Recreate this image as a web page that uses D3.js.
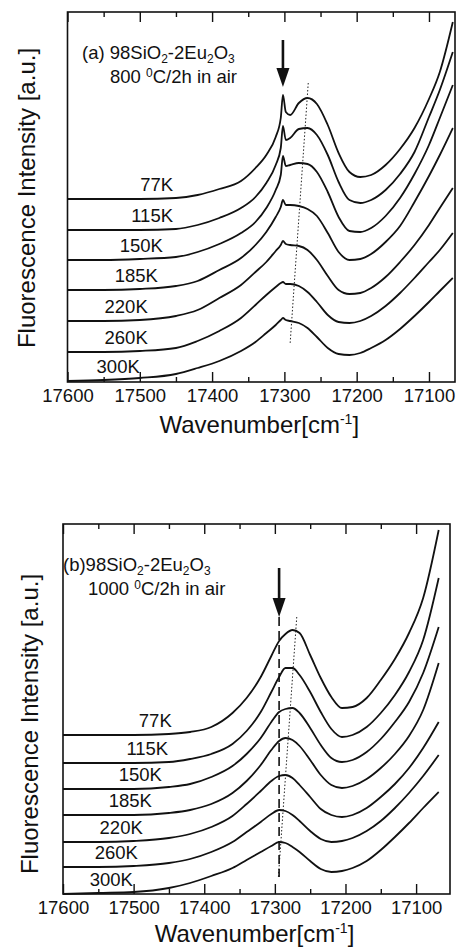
<!DOCTYPE html>
<html>
<head>
<meta charset="utf-8">
<script src="https://cdnjs.cloudflare.com/ajax/libs/d3/7.8.5/d3.min.js"></script>
<style>
  body { margin: 0; background: #fff; }
  svg text { font-family: 'Liberation Sans', Arial, Helvetica, sans-serif; fill: #111; }
</style>
</head>
<body>
<svg class="spectra" width="458" height="952"></svg>
<script>
const temps = ['77K', '115K', '150K', '185K', '220K', '260K', '300K'];

// (a) 800 C / 2h in air -- wavenumbers [cm-1] and stacked intensities [a.u.]
const wavenumberA = [17600, 17550, 17500, 17450, 17420, 17390, 17360, 17340, 17325, 17312, 17305, 17302, 17298, 17292,
                     17280, 17268, 17255, 17240, 17225, 17210, 17195, 17180, 17160, 17140, 17120, 17100, 17085, 17067];
const a77K  = [18.3, 18.3, 18.3, 18.4, 18.7, 19.3, 20.1, 21.4, 22.7, 24.5, 26.4, 28.7, 27.0, 26.7,
               27.9, 28.4, 27.8, 25.7, 22.9, 21.0, 20.5, 20.7, 21.7, 23.3, 25.4, 28.3, 31.0, 36.0];
const a115K = [15.2, 15.2, 15.2, 15.3, 15.7, 16.4, 17.4, 18.5, 19.9, 21.7, 23.4, 25.6, 24.2, 24.4,
               25.3, 25.4, 24.7, 22.7, 20.0, 18.2, 17.9, 18.2, 19.2, 20.8, 23.0, 26.5, 29.2, 33.0];
const a150K = [12.2, 12.2, 12.3, 12.5, 13.0, 13.8, 14.9, 16.0, 17.4, 19.2, 20.7, 22.6, 21.6, 21.7,
               21.9, 21.8, 21.0, 19.0, 16.5, 15.1, 15.0, 15.4, 16.6, 18.4, 20.8, 23.7, 26.4, 29.7];
const a185K = [9.2, 9.2, 9.3, 9.6, 10.1, 11.2, 12.4, 13.7, 15.0, 16.5, 17.5, 18.2, 17.7, 17.7,
               17.6, 17.3, 16.6, 14.9, 13.0, 12.2, 12.3, 12.8, 14.0, 15.6, 18.0, 20.6, 22.7, 25.4];
const a220K = [6.1, 6.1, 6.2, 6.6, 7.2, 8.4, 9.7, 11.0, 12.0, 13.1, 13.7, 14.1, 13.8, 13.7,
               13.6, 13.2, 12.2, 10.6, 9.2, 8.8, 8.9, 9.4, 10.5, 12.0, 13.7, 15.7, 17.4, 19.4];
const a260K = [3.0, 3.0, 3.1, 3.4, 4.1, 5.1, 6.4, 7.7, 8.7, 9.5, 9.9, 10.0, 9.8, 9.8,
               9.6, 9.0, 8.0, 6.7, 6.0, 5.9, 6.1, 6.6, 7.6, 8.9, 10.4, 12.0, 13.2, 14.9];
const a300K = [0.1, 0.2, 0.4, 0.8, 1.4, 2.1, 3.1, 4.0, 4.9, 5.7, 6.2, 6.4, 6.2, 6.1,
               5.9, 5.4, 4.5, 3.4, 2.8, 2.7, 2.9, 3.4, 4.2, 5.3, 6.6, 8.0, 9.1, 10.4];

// (b) 1000 C / 2h in air
const wavenumberB = [17600, 17550, 17500, 17450, 17420, 17390, 17360, 17340, 17320, 17305, 17294, 17285, 17275,
                     17265, 17250, 17235, 17220, 17205, 17190, 17170, 17150, 17130, 17110, 17090, 17068];
const b77K  = [15.9, 15.9, 15.9, 16.0, 16.2, 16.7, 18.1, 19.6, 21.7, 23.8, 25.3, 26.0, 26.4,
               26.1, 23.9, 21.6, 19.7, 18.6, 18.7, 19.6, 21.4, 23.5, 26.1, 29.6, 36.4];
const b115K = [13.1, 13.1, 13.1, 13.2, 13.5, 14.0, 15.0, 16.3, 18.2, 20.2, 21.7, 22.6, 22.6,
               21.9, 20.2, 18.2, 16.5, 15.7, 15.9, 16.7, 18.1, 19.9, 22.2, 25.4, 31.6];
const b150K = [10.5, 10.5, 10.5, 10.7, 11.0, 11.7, 12.8, 14.0, 15.6, 17.2, 18.2, 18.5, 18.6,
               18.1, 16.6, 14.9, 13.6, 13.2, 13.4, 14.2, 15.5, 17.2, 19.2, 22.1, 26.7];
const b185K = [7.9, 7.9, 7.9, 8.1, 8.4, 9.0, 10.1, 11.3, 12.9, 14.4, 15.3, 15.6, 15.4,
               14.8, 13.4, 11.9, 10.9, 10.6, 10.8, 11.5, 12.6, 14.0, 15.8, 18.4, 23.1];
const b220K = [5.2, 5.2, 5.3, 5.6, 6.0, 6.7, 7.8, 9.0, 10.3, 11.3, 11.8, 11.9, 11.6,
               10.9, 9.7, 8.5, 7.9, 7.7, 7.9, 8.6, 9.7, 11.0, 12.6, 14.6, 17.2];
const b260K = [2.7, 2.7, 2.8, 3.1, 3.5, 4.2, 5.2, 6.2, 7.2, 8.0, 8.4, 8.3, 7.9,
               7.3, 6.3, 5.5, 5.2, 5.3, 5.6, 6.3, 7.3, 8.6, 10.1, 11.8, 13.9];
const b300K = [0.0, 0.1, 0.2, 0.6, 1.1, 1.8, 2.6, 3.4, 4.2, 4.8, 5.2, 5.1, 4.7,
               4.2, 3.3, 2.5, 2.2, 2.3, 2.6, 3.3, 4.4, 5.7, 7.1, 8.6, 10.2];

// where the temperature labels end (wavenumber)
const labelEndA = [17454, 17454, 17468, 17475, 17489, 17489, 17500];
const labelEndB = [17446, 17451, 17460, 17474, 17487, 17494, 17501];

// arrow at the sharp line, and the dotted guide through the broad band maxima
const arrowA = {w: 17302, top: 34.2, tip: 29.5};
const arrowB = {w: 17294, top: 32.6, tip: 27.7, dashEnd: 1.7};
const guideA = [[17267, 29.9], [17292, 3.9]];
const guideB = [[17269, 27.7], [17295, 1.7]];

const svg = d3.select('svg.spectra');

function drawPanel(p) {
  const width = p.right - p.left;
  const height = p.bottom - p.top;

  const g = svg.append('g')
               .attr('transform', `translate(${p.left}, ${p.top})`);

  const x = d3.scaleLinear().domain([17600, p.wEnd]).range([0, width]);
  const y = d3.scaleLinear().domain([0, 37]).range([height, 0]);

  const major = d3.range(17600, p.wEnd - 1, -100);
  const minor = d3.range(17550, p.wEnd, -100);

  // ticks point inward on top and bottom, labels only below
  const bottomAxis = g.append('g')
                      .attr('transform', `translate(0, ${height})`)
                      .call(d3.axisBottom(x).tickValues(major).tickSize(-10).tickPadding(7).tickFormat(d3.format('d')));
  g.append('g')
   .attr('transform', `translate(0, ${height})`)
   .call(d3.axisBottom(x).tickValues(minor).tickSize(-5).tickFormat(''));
  g.append('g')
   .call(d3.axisTop(x).tickValues(major).tickSize(-10).tickFormat(''));
  g.append('g')
   .call(d3.axisTop(x).tickValues(minor).tickSize(-5).tickFormat(''));

  g.selectAll('.domain').remove();
  g.selectAll('.tick line').attr('stroke', '#111').attr('stroke-width', 1.4);
  bottomAxis.selectAll('text')
            .style('font-size', '18.5px')
            .style('font-family', "'Liberation Sans', Arial, sans-serif")
            .attr('fill', '#111');

  g.append('rect')
   .attr('x', 0).attr('y', 0)
   .attr('width', width).attr('height', height)
   .style('fill', 'none')
   .style('stroke', '#111')
   .style('stroke-width', 1.6);

  const line = d3.line()
                 .x((d, i) => x(p.wavenumber[i]))
                 .y(d => y(d))
                 .curve(d3.curveMonotoneX);

  g.selectAll('path.spectrum')
   .data(p.series)
   .enter()
   .append('path')
   .attr('class', 'spectrum')
   .attr('d', line)
   .style('fill', 'none')
   .style('stroke', '#111')
   .style('stroke-width', 1.8)
   .style('stroke-linejoin', 'round');

  g.selectAll('text.temp')
   .data(temps)
   .enter()
   .append('text')
   .attr('class', 'temp')
   .attr('x', (d, i) => x(p.labelEnd[i]))
   .attr('y', (d, i) => y(p.series[i][0]) - 8)
   .attr('text-anchor', 'end')
   .style('font-size', '18.5px')
   .text(d => d);

  // dotted guide
  g.append('line')
   .attr('x1', x(p.guide[0][0])).attr('y1', y(p.guide[0][1]))
   .attr('x2', x(p.guide[1][0])).attr('y2', y(p.guide[1][1]))
   .style('stroke', '#222')
   .style('stroke-width', 1)
   .style('stroke-dasharray', '1.5,2');

  // arrow
  const ax = x(p.arrow.w);
  const tip = y(p.arrow.tip);
  g.append('line')
   .attr('x1', ax).attr('y1', y(p.arrow.top))
   .attr('x2', ax).attr('y2', tip - 12)
   .style('stroke', '#111')
   .style('stroke-width', 2.6);
  g.append('path')
   .attr('d', `M${ax - 6.5},${tip - 19} L${ax + 6.5},${tip - 19} L${ax},${tip} Z`)
   .style('fill', '#111');

  if (p.arrow.dashEnd !== undefined) {
    g.append('line')
     .attr('x1', ax).attr('y1', tip)
     .attr('x2', ax).attr('y2', y(p.arrow.dashEnd))
     .style('stroke', '#111')
     .style('stroke-width', 1.6)
     .style('stroke-dasharray', '9,5');
  }

  // sample composition and heat treatment
  const t1 = g.append('text')
              .attr('x', p.noteX).attr('y', p.noteY)
              .style('font-size', '18.5px');
  t1.append('tspan').text(p.tag + '98SiO');
  t1.append('tspan').text('2').attr('dy', 4).style('font-size', '12px');
  t1.append('tspan').text('-2Eu').attr('dy', -4);
  t1.append('tspan').text('2').attr('dy', 4).style('font-size', '12px');
  t1.append('tspan').text('O').attr('dy', -4);
  t1.append('tspan').text('3').attr('dy', 4).style('font-size', '12px');

  const t2 = g.append('text')
              .attr('x', p.note2X).attr('y', p.noteY + 24)
              .style('font-size', '18.5px');
  t2.append('tspan').text(p.temp + ' ');
  t2.append('tspan').text('0').attr('dy', -6).style('font-size', '12px');
  t2.append('tspan').text('C/2h in air').attr('dy', 6);

  // axis titles
  g.append('text')
   .attr('transform', `translate(${p.yTitleX}, ${p.yTitleY}) rotate(-90)`)
   .attr('text-anchor', 'middle')
   .style('font-size', '24px')
   .text('Fluorescence Intensity [a.u.]');

  const xt = g.append('text')
              .attr('x', width / 2 - 2)
              .attr('y', p.xTitleY)
              .attr('text-anchor', 'middle')
              .style('font-size', '24px');
  xt.append('tspan').text('Wavenumber[cm');
  xt.append('tspan').text('-1').attr('dy', -9).style('font-size', '14px');
  xt.append('tspan').text(']').attr('dy', 9);
}

drawPanel({
  left: 67.5, right: 455, top: 12, bottom: 382, wEnd: 17064,
  wavenumber: wavenumberA,
  series: [a77K, a115K, a150K, a185K, a220K, a260K, a300K],
  labelEnd: labelEndA,
  arrow: arrowA, guide: guideA,
  tag: '(a) ', temp: '800',
  noteX: 14.5, noteY: 46.5, note2X: 42.5,
  yTitleX: -32.5, yTitleY: 186, xTitleY: 421
});

drawPanel({
  left: 63, right: 450, top: 524, bottom: 894, wEnd: 17052,
  wavenumber: wavenumberB,
  series: [b77K, b115K, b150K, b185K, b220K, b260K, b300K],
  labelEnd: labelEndB,
  arrow: arrowB, guide: guideB,
  tag: '(b)', temp: '1000',
  noteX: 0, noteY: 47, note2X: 25,
  yTitleX: -25, yTitleY: 200, xTitleY: 418
});
</script>
</body>
</html>
